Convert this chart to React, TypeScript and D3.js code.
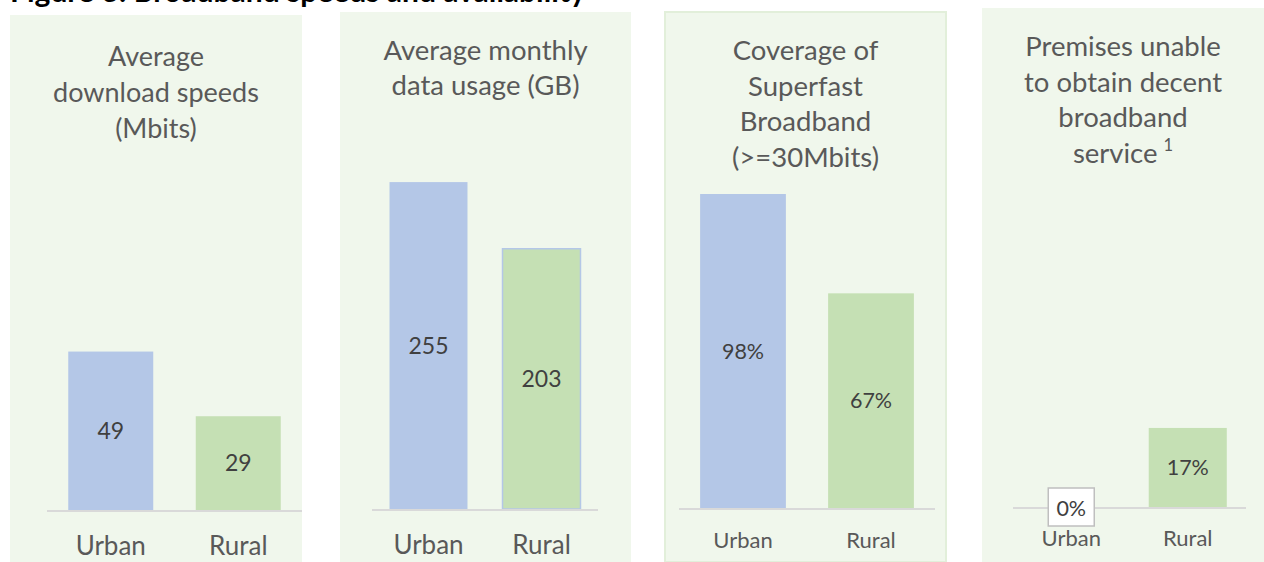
import React from "react";
import * as d3 from "d3";

const categories = ["Urban", "Rural"];
const speedValues = [49, 29];
const usageValues = [255, 203];
const coverageValues = [98, 67];
const unableValues = [0, 17];
const speedTitle = ["Average", "download speeds", "(Mbits)"];
const usageTitle = ["Average monthly", "data usage (GB)"];
const coverageTitle = ["Coverage of", "Superfast", "Broadband", "(>=30Mbits)"];
const unableTitle = ["Premises unable", "to obtain decent", "broadband", "service"];
const figureTitle = "Figure 3: Broadband speeds and availability";

const FONT = "Lato, Carlito, Calibri, sans-serif";
const URBAN = "#b4c7e7";
const RURAL = "#c5e0b4";
const PANEL_BG = "#f0f7ec";
const TEXT = "#595959";
const VAL = "#404040";
const AXIS = "#d9d9d9";

type Panel = {
  values: number[];
  fmt: (v: number) => string;
  title: string[];
  sup?: string;
  box: [number, number, number, number]; // x0,y0,x1,y1
  border?: boolean;
  axis: [number, number];
  base: number;
  yMax: number;
  yTop: number;
  pad: number;
  titleY: number;
  titleStep: number;
  titleSize: number;
  valSize: number;
  catSize: number;
  catY: number;
  ruralStroke?: boolean;
};

const panels: Panel[] = [
  {
    values: speedValues, fmt: (v) => `${v}`, title: speedTitle,
    box: [10, 15, 302, 562], axis: [47, 302], base: 510, yMax: 60, yTop: 316, pad: 1 / 3,
    titleY: 66, titleStep: 36, titleSize: 27, valSize: 23, catSize: 26, catY: 555,
  },
  {
    values: usageValues, fmt: (v) => `${v}`, title: usageTitle,
    box: [340, 12, 631, 562], axis: [372, 598], base: 509, yMax: 300, yTop: 124.4, pad: 0.31,
    titleY: 60, titleStep: 35, titleSize: 27.5, valSize: 23, catSize: 26, catY: 554, ruralStroke: true,
  },
  {
    values: coverageValues, fmt: (v) => `${v}%`, title: coverageTitle,
    box: [665, 12, 946, 562], border: true, axis: [679, 935], base: 508, yMax: 100, yTop: 187.6, pad: 0.33,
    titleY: 60, titleStep: 35.7, titleSize: 27.5, valSize: 21.5, catSize: 22, catY: 548,
  },
  {
    values: unableValues, fmt: (v) => `${v}%`, title: unableTitle, sup: "1",
    box: [982, 8, 1264, 562], axis: [1013, 1246], base: 507, yMax: 20, yTop: 414, pad: 0.33,
    titleY: 56, titleStep: 35.7, titleSize: 27.5, valSize: 21.5, catSize: 22, catY: 546,
  },
];

function PanelChart({ p }: { p: Panel }) {
  const x = d3.scaleBand<string>().domain(categories).range(p.axis).paddingInner(p.pad).paddingOuter(p.pad / 2);
  const y = d3.scaleLinear().domain([0, p.yMax]).range([p.base, p.yTop]);
  const cx = (p.box[0] + p.box[2]) / 2;
  const colors = [URBAN, RURAL];
  return (
    <g>
      <rect x={p.box[0]} y={p.box[1]} width={p.box[2] - p.box[0]} height={p.box[3] - p.box[1]}
        fill={PANEL_BG} stroke={p.border ? "#e2efda" : "none"} strokeWidth={p.border ? 2 : 0} />
      <text textAnchor="middle" fill={TEXT} fontFamily={FONT} fontSize={p.titleSize}>
        {p.title.map((t, i) => (
          <tspan key={i} x={cx} y={p.titleY + i * p.titleStep}>
            {t}
            {p.sup && i === p.title.length - 1 ? (
              <tspan fontSize={p.titleSize * 0.6} dy={-12} dx={6}>{p.sup}</tspan>
            ) : null}
          </tspan>
        ))}
      </text>
      {p.values.map((v, i) => {
        const bx = x(categories[i])!;
        const bw = x.bandwidth();
        const top = y(v);
        const h = p.base - top;
        return (
          <g key={i}>
            {h > 0 && (
              <rect x={bx} y={top} width={bw} height={h} fill={colors[i]}
                stroke={p.ruralStroke && i === 1 ? URBAN : "none"} strokeWidth={p.ruralStroke && i === 1 ? 1.5 : 0} />
            )}
          </g>
        );
      })}
      <line x1={p.axis[0]} x2={p.axis[1]} y1={p.base + 1} y2={p.base + 1} stroke={AXIS} strokeWidth={2} />
      {p.values.map((v, i) => {
        const bx = x(categories[i])! + x.bandwidth() / 2;
        const top = y(v);
        const h = p.base - top;
        if (h > 0) {
          return (
            <text key={i} x={bx} y={top + h / 2} dy="0.35em" textAnchor="middle" fill={VAL}
              fontFamily={FONT} fontSize={p.valSize}>{p.fmt(v)}</text>
          );
        }
        return (
          <g key={i}>
            <rect x={bx - 23} y={p.base - 19} width={46} height={38} fill="#ffffff" stroke="#bfbfbf" strokeWidth={1.5} />
            <text x={bx} y={p.base + 1} dy="0.35em" textAnchor="middle" fill={VAL}
              fontFamily={FONT} fontSize={p.valSize}>{p.fmt(v)}</text>
          </g>
        );
      })}
      {categories.map((c) => (
        <text key={c} x={x(c)! + x.bandwidth() / 2} y={p.catY} textAnchor="middle" fill={TEXT}
          fontFamily={FONT} fontSize={p.catSize}>{c}</text>
      ))}
    </g>
  );
}

export default function App() {
  return (
    <svg width={1264} height={562} style={{ position: "absolute", left: 0, top: 0, background: "#ffffff" }}>
      <text x={10} y={2} fill="#000" fontFamily={FONT} fontWeight="bold" fontSize={30}>{figureTitle}</text>
      {panels.map((p, i) => <PanelChart key={i} p={p} />)}
    </svg>
  );
}
